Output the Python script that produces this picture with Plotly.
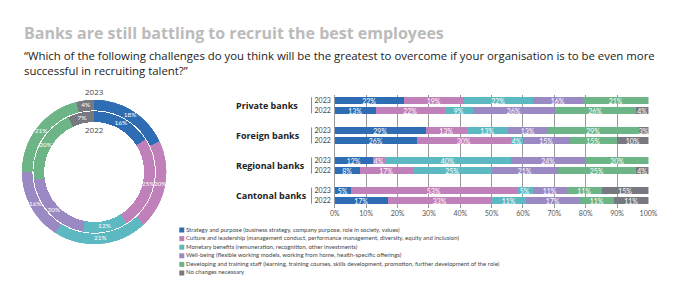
import plotly.graph_objects as go

# ---------------- data ----------------
categories = [
    "Strategy and purpose (business strategy, company purpose, role in society, values)",
    "Culture and leadership (management conduct, performance management, diversity, equity and inclusion)",
    "Monetary benefits (remuneration, recognition, other investments)",
    "Well-being (flexible working models, working from home, health-specific offerings)",
    "Developing and training staff (learning, training courses, skills development, promotion, further development of the role)",
    "No changes necessary",
]
colors = ["#2E6DB4", "#C080B9", "#5CB9C2", "#9B89C4", "#6DB487", "#787880"]

groups = ["Private banks", "Foreign banks", "Regional banks", "Cantonal banks"]
years = ["2023", "2022"]

# rows in order: Private 2023, Private 2022, Foreign 2023, Foreign 2022, Regional 2023, Regional 2022, Cantonal 2023, Cantonal 2022
strategy = [22, 13, 29, 26, 12, 8, 5, 17]
culture = [19, 22, 13, 30, 4, 17, 53, 33]
monetary = [22, 9, 13, 4, 40, 25, 5, 11]
wellbeing = [16, 26, 13, 15, 24, 21, 11, 17]
developing = [21, 26, 29, 15, 20, 25, 11, 11]
no_change = [0, 4, 3, 10, 0, 4, 15, 11]
bar_series = [strategy, culture, monetary, wellbeing, developing, no_change]

donut_2023 = [18, 20, 21, 16, 21, 4]
donut_2022 = [16, 25, 12, 20, 20, 7]

x_ticks = list(range(0, 101, 10))

W, H = 680, 284
FONT = "Open Sans"
LFONT = "Lato"

fig = go.Figure()

# ---------------- donut (two rings drawn as polar bars) ----------------
cx, cy = 91, 172
R_OUT, R_OUT_IN = 74, 63
R_IN, R_IN_IN = 62, 51


def dom(r):
    return dict(x=[(cx - r) / W, (cx + r) / W], y=[1 - (cy + r) / H, 1 - (cy - r) / H])


def mid_angles(vals):
    tot = sum(vals)
    out, c = [], 0
    for v in vals:
        out.append((c + v / 2) / tot * 360)
        c += v
    return out


for vals, r, rin in [(donut_2023, R_OUT, R_OUT_IN), (donut_2022, R_IN, R_IN_IN)]:
    tot = sum(vals)
    fig.add_trace(go.Barpolar(
        r=[r - rin] * len(vals), base=[rin] * len(vals), theta=mid_angles(vals),
        width=[v / tot * 360 for v in vals],
        marker=dict(color=colors, line=dict(width=0)),
        subplot="polar", showlegend=False, hoverinfo="skip",
    ))
    fig.add_trace(go.Scatterpolar(
        r=[(r + rin) / 2] * len(vals), theta=mid_angles(vals), mode="text",
        text=[f"{v}%" for v in vals], textposition="middle center",
        textfont=dict(size=6.5, color="white", family=LFONT),
        subplot="polar", showlegend=False, hoverinfo="skip", cliponaxis=False,
    ))

# ---------------- stacked bars ----------------
row_pos = []
row_lab = []
for gi, g in enumerate(groups):
    for yi, yr in enumerate(years):
        row_pos.append(gi * 3 + yi)
        row_lab.append(yr)

for name, col, vals in zip(categories, colors, bar_series):
    fig.add_trace(go.Bar(
        x=vals, y=row_pos, orientation="h", name=name,
        marker=dict(color=col, line=dict(width=0)), width=0.7,
        text=[f"{v}%" if v else "" for v in vals], textposition="inside",
        insidetextanchor="middle", constraintext="none",
        textfont=dict(size=7, color="white", family=LFONT),
        xaxis="x2", yaxis="y2", showlegend=False, hoverinfo="skip",
    ))

# ---------------- legend (as a small marker+text trace) ----------------
fig.add_trace(go.Scatter(
    x=[0] * len(categories), y=list(range(len(categories))), mode="markers+text",
    marker=dict(symbol="square", size=5, color=colors),
    text=categories, textposition="middle right",
    textfont=dict(size=6, color="#444", family=LFONT),
    xaxis="x3", yaxis="y3", showlegend=False, hoverinfo="skip", cliponaxis=False,
))

x0p, x1p = 336.7 / W, 657 / W
y_top, y_bot = 95, 208

annotations = [
    dict(text="<b>Banks are still battling to recruit the best employees</b>", x=17 / W, y=1 - 33 / H,
         xref="paper", yref="paper", xanchor="left", yanchor="middle", showarrow=False,
         font=dict(size=16, color="#BBBBBB", family=FONT)),
    dict(text="“Which of the following challenges do you think will be the greatest to overcome if your organisation is to be even more"
              "<br>successful in recruiting talent?”",
         x=17 / W, y=1 - 63.5 / H, xref="paper", yref="paper", xanchor="left", yanchor="middle",
         align="left", showarrow=False, font=dict(size=11.4, color="#222", family=FONT)),
    dict(text="2023", x=cx / W, y=1 - 91 / H, xref="paper", yref="paper", showarrow=False,
         xanchor="center", yanchor="middle", font=dict(size=8, color="#444", family=FONT)),
    dict(text="2022", x=cx / W, y=1 - 129 / H, xref="paper", yref="paper", showarrow=False,
         xanchor="center", yanchor="middle", font=dict(size=8, color="#444", family=FONT)),
]
shapes = []
for gi, g in enumerate(groups):
    annotations.append(dict(text=f"<b>{g}</b>", x=234 / W, y=gi * 3 + 0.5, xref="paper", yref="y2",
                            xanchor="left", yanchor="middle", showarrow=False,
                            font=dict(size=9, color="#222", family=FONT)))
    shapes.append(dict(type="line", xref="paper", yref="y2", x0=313 / W, x1=313 / W,
                       y0=gi * 3 - 0.3, y1=gi * 3 + 1.3, line=dict(color="#888", width=1)))

fig.update_layout(
    width=W, height=H, margin=dict(l=0, r=0, t=0, b=0),
    paper_bgcolor="white", plot_bgcolor="white",
    barmode="stack", bargap=0,
    font=dict(family=FONT),
    polar=dict(domain=dom(R_OUT), bgcolor="rgba(0,0,0,0)", hole=0,
               radialaxis=dict(range=[0, R_OUT], visible=False, showgrid=False),
               angularaxis=dict(direction="clockwise", rotation=90, visible=False, showgrid=False)),
    xaxis2=dict(domain=[x0p, x1p], range=[0, 100], tickvals=x_ticks,
                ticktext=[f"{t}%" for t in x_ticks], showgrid=True, gridcolor="#9A9A9A",
                gridwidth=1, zeroline=True, zerolinecolor="#9A9A9A", zerolinewidth=1,
                tickfont=dict(size=7, color="#555", family=LFONT), anchor="y2", ticks="",
                fixedrange=True),
    yaxis2=dict(domain=[1 - y_bot / H, 1 - y_top / H], range=[10.73, -0.53], tickvals=row_pos,
                ticktext=row_lab, showgrid=False, zeroline=False, anchor="x2",
                tickfont=dict(size=7, color="#444", family=LFONT), ticks="", ticklabelstandoff=3),
    xaxis3=dict(domain=[180.5 / W, 0.99], range=[0, 1], visible=False, anchor="y3"),
    yaxis3=dict(domain=[1 - 277.3 / H, 1 - 225.7 / H], range=[5.5, -0.5], visible=False, anchor="x3"),
    annotations=annotations, shapes=shapes,
)

fig.write_html("out.html")
